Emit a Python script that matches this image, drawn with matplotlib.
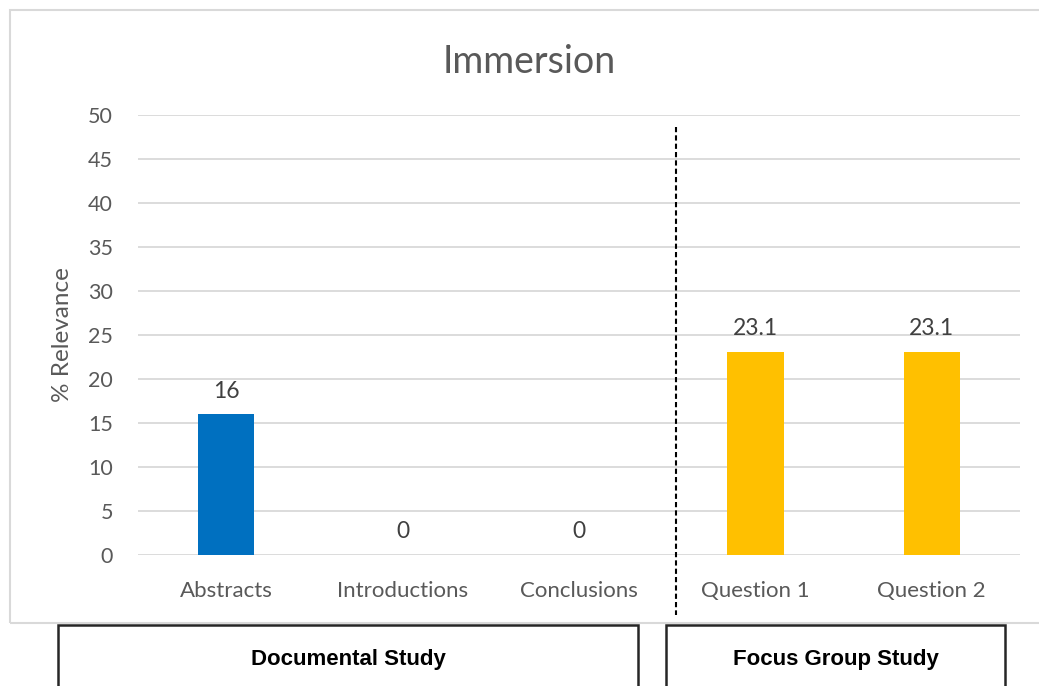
import matplotlib.pyplot as plt
from matplotlib.patches import Rectangle
import numpy as np

doc_categories = ['Abstracts', 'Introductions', 'Conclusions']
doc_values = [16, 0, 0]
focus_categories = ['Question 1', 'Question 2']
focus_values = [23.1, 23.1]
y_ticks = list(range(0, 51, 5))

plt.rcParams['font.family'] = ['Lato', 'DejaVu Sans']

categories = doc_categories + focus_categories
values = doc_values + focus_values
colors = ['#0070C0'] * len(doc_categories) + ['#FFC000'] * len(focus_categories)
x = np.arange(len(categories))

fig = plt.figure(figsize=(10.39, 6.86), dpi=100)
W, H = 1039, 686

# light outer chart frame
fig.patches.append(Rectangle((10 / W, 1 - 623 / H), 1.1, (623 - 10) / H,
                             transform=fig.transFigure, fill=False,
                             edgecolor='#d9d9d9', lw=1.5))

ax = fig.add_axes([138 / W, 1 - 555 / H, (1020 - 138) / W, (555 - 115) / H])
ax.bar(x, values, width=0.32, color=colors, zorder=3)

for xi, v in zip(x, values):
    ax.annotate(f'{v:g}', (xi, v), xytext=(0, 9), textcoords='offset points',
                ha='center', va='bottom', fontsize=16.5, color='#404040')

ax.set_xlim(-0.5, len(categories) - 0.5)
ax.set_ylim(0, 50)
ax.set_yticks(y_ticks)
ax.yaxis.grid(True, color='#d9d9d9', lw=1.3, zorder=0)
ax.set_axisbelow(True)
ax.set_xticks(x)
ax.set_xticklabels(categories)
ax.tick_params(length=0, labelcolor='#595959')
ax.tick_params(axis='x', pad=19, labelsize=16)
ax.tick_params(axis='y', pad=18, labelsize=15.5)
for s in ax.spines.values():
    s.set_visible(False)
ax.set_ylabel('% Relevance', fontsize=17.5, color='#595959')
ax.yaxis.set_label_coords(-0.074, 0.5)
ax.set_title('Immersion', fontsize=27, color='#595959', pad=30, x=0.444)

# dashed separator between the two study groups
sep = len(doc_categories) - 0.5 + 0.05
ax.plot([sep, sep], [48.6, -6.8], color='black', lw=1.5,
        linestyle=(0, (2.5, 1.5)), clip_on=False, zorder=4)

# group boxes under the chart
box_font = ['Liberation Sans Narrow', 'Liberation Sans', 'DejaVu Sans']
for left, right, label in [(58, 638, 'Documental Study'),
                           (666, 1005, 'Focus Group Study')]:
    fig.patches.append(Rectangle((left / W, -0.05), (right - left) / W,
                                 0.05 + (686 - 625) / H,
                                 transform=fig.transFigure, fill=False,
                                 edgecolor='#262626', lw=1.8))
    fig.text((left + right) / 2 / W, 1 - 659 / H, label, ha='center',
             va='center', fontsize=16, fontweight='bold', color='black',
             family=box_font)

fig.savefig('out.png', dpi=100)
